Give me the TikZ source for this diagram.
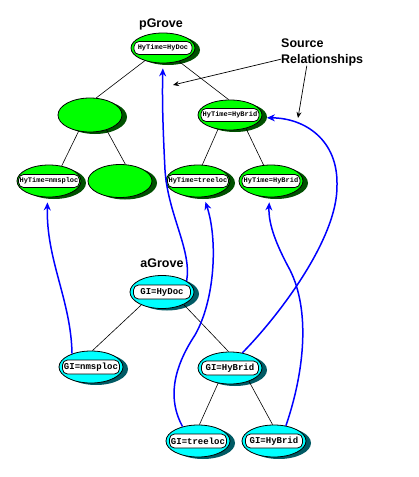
\documentclass[tikz,border=0pt]{standalone}
\usepackage{fontspec}
\setmainfont{Liberation Sans}
\newfontfamily\labmono{Liberation Mono}
\usetikzlibrary{shapes.geometric,shadows,arrows.meta}
\definecolor{pgreen}{RGB}{0,255,0}
\definecolor{pdark}{RGB}{0,80,0}
\definecolor{acyan}{RGB}{0,255,255}
\definecolor{adark}{RGB}{0,90,100}
\definecolor{relblue}{RGB}{0,0,255}
\tikzstyle{pnode}=[ellipse,draw,line width=0.8pt,fill=pgreen,inner sep=0,minimum width=64pt,minimum height=30pt,drop shadow={shadow xshift=5pt,shadow yshift=-2pt,fill=pdark,opacity=1}]
\tikzstyle{anode}=[ellipse,draw,line width=0.8pt,fill=acyan,inner sep=0,minimum width=64pt,minimum height=32pt,drop shadow={shadow xshift=5pt,shadow yshift=-2pt,fill=adark,opacity=1}]
\tikzstyle{pbox}=[draw,line width=0.8pt,fill=white,rounded corners=5pt,inner sep=1pt,minimum width=58pt,minimum height=13pt,font=\labmono\bfseries\fontsize{7}{8}\selectfont]
\tikzstyle{abox}=[draw,line width=0.8pt,fill=white,rounded corners=5pt,inner sep=1pt,minimum width=57pt,minimum height=14pt,font=\labmono\bfseries\fontsize{9}{10}\selectfont]
\tikzstyle{grove}=[inner sep=0,anchor=base,font=\bfseries\fontsize{12.5}{16}\selectfont]
\tikzstyle{edge}=[line width=0.6pt]
\tikzstyle{note}=[line width=0.7pt,-{Stealth[length=6pt,width=5pt]}]
\tikzstyle{link}=[relblue,line width=1.5pt,shorten >=5pt,-{Stealth[length=8pt,width=7pt]}]

\begin{document}
\begin{tikzpicture}[x=1pt,y=-1pt]
  \useasboundingbox (0,0) rectangle (419,477);

                        \node[grove] (pt) at (161,27) {pGrove};
                        \node[pnode,label={[pbox]center:{HyTime=HyDoc}}] (pa) at (163,48) {};
                        \node[pnode,minimum height=34pt] (pb) at (90,115) {};
                        \node[pnode,label={[pbox]center:{HyTime=HyBrid}}] (pc) at (230,115) {};
                        \node[pnode,minimum height=32pt,label={[pbox]center:{HyTime=nmsploc}}] (pd) at (49,181) {};
                        \node[pnode,minimum height=33pt] (pe) at (120,181) {};
                        \node[pnode,minimum height=32pt,label={[pbox]center:{HyTime=treeloc}}] (pf) at (198,181) {};
                        \node[pnode,minimum height=32pt,label={[pbox]center:{HyTime=HyBrid}}] (pg) at (271,181) {};

                        \node[grove,align=left,anchor=base west] (sr) at (281,63) {Source\\Relationships};
                        \coordinate (t1) at (173,85);
                        \coordinate (t2) at (298,118);

                        \node[grove] (at) at (162,267) {aGrove};
                        \node[anode,minimum height=33pt,label={[abox]center:{GI=HyDoc}}] (aa) at (162,292) {};
                        \node[anode,label={[abox]center:{GI=nmsploc}}] (ab) at (91,367) {};
                        \node[anode,label={[abox]center:{GI=HyBrid}}] (ac) at (230,368) {};
                        \node[anode,label={[abox]center:{GI=treeloc}}] (ad) at (198,441) {};
                        \node[anode,label={[abox]center:{GI=HyBrid}}] (ae) at (274,441) {};

                        \draw[edge]
                        (pa.-145) -- (pb.70)
                        (pa.-40) -- (pc.95)
                        (pb.-125) -- (pd.50)
                        (pb.-42) -- (pe.72)
                        (pc.-130) -- (pf.75)
                        (pc.-40) -- (pg.115)
                        (aa.-148) -- (ab.85)
                        (aa.-30) -- (ac.95)
                        (ac.-128) -- (ad.85)
                        (ac.-35) -- (ae.95)
                        ;

                        \draw[note] (sr.190) -- (t1);
                        \draw[note] (sr.222) -- (t2);

                        \draw[link] (aa.24) .. controls (192,250) and (168,215) .. (165,170) .. controls (163,130) and (162,100) .. (pa.-90);
                        \draw[link] (ab.145) .. controls (71,300) and (46,260) .. (pd.-95);
                        \draw[link] (ac.51) .. controls (275,320) and (338,240) .. (337,185) .. controls (338,140) and (305,118) .. (pc.-5);
                        \draw[link] (ae.52) .. controls (305,370) and (310,310) .. (290,270) .. controls (278,248) and (268,225) .. (pg.-95);
                        \draw[link] (ad.137) .. controls (168,400) and (172,370) .. (195,335) .. controls (215,300) and (218,240) .. (pf.-70);

    \end{tikzpicture}
\end{document}
